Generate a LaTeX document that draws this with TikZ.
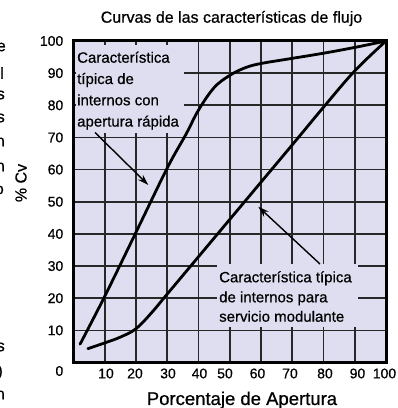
\documentclass[tikz,border=0pt]{standalone}
\usepackage{fontspec}
\setmainfont{Liberation Sans}[FakeBold=0.6]
\usetikzlibrary{arrows.meta}
\definecolor{plotbg}{RGB}{222,222,240}
\definecolor{gridc}{RGB}{40,40,40}
\begin{document}
\begin{tikzpicture}[x=1pt,y=1pt,
  lbl/.style={font=\fontsize{15}{18}\selectfont, inner sep=0, anchor=base west},
  num/.style={font=\fontsize{14}{16}\selectfont, inner sep=0},
  frag/.style={font=\fontsize{16}{19}\selectfont, inner sep=0, anchor=east},
  pointer/.style={line width=1.4pt, -{Stealth[length=11pt,width=7pt]}},
  curve/.style={line width=2.8pt, line join=round, line cap=round},
  gridline/.style={gridc, line width=1.6pt},
  maskbox/.style={fill=plotbg, draw=none, inner sep=0, anchor=north west}]
\useasboundingbox (0,0) rectangle (398,408);
\fill[white] (0,0) rectangle (398,408);

\begin{scope}[shift={(73.5,45.5)}, x=3.125pt, y=3.215pt]
  \fill[plotbg] (0,0) rectangle (100,100);
  \foreach \i in {10,20,...,90} {
    \draw[gridline] (\i,0) -- (\i,100);
    \draw[gridline] (0,\i) -- (100,\i);
  }
\end{scope}

% label boxes masking the grid
\node[maskbox, minimum width=108.5pt, minimum height=87.5pt] (box1) at (75.5,363) {};
\node[maskbox, minimum width=141pt, minimum height=63pt] (box2) at (217,144) {};

\begin{scope}[shift={(73.5,45.5)}, x=3.125pt, y=3.215pt]
  \draw[line width=3pt] (0,0) rectangle (100,100);
  \draw[curve] plot[smooth, tension=0.6] coordinates {(2.1,5.7) (10,20.6) (20,40.5) (30,60.5) (36,71) (40,78.5) (45,85.5) (50,89.3) (55,91.7) (60,93) (70,94.6) (80,96.2) (90,98) (100,100)};
  \draw[curve] plot[smooth, tension=0.6] coordinates {(4.6,4.3) (10,6.1) (15,7.9) (20,10.5) (25,15.5) (30,21.3) (40,32.9) (55,50.3) (70,67.7) (80,79.4) (90,90.7) (100,100)};
\end{scope}

% label texts
\node[lbl] (t11) at (77,345.3) {Característica};
\node[lbl] (t12) at (77,324) {típica de};
\node[lbl] (t13) at (77,302.7) {internos con};
\node[lbl] (t14) at (77,281.4) {apertura rápida};
\node[lbl] (t21) at (219,125.7) {Característica típica};
\node[lbl] (t22) at (219,105.7) {de internos para};
\node[lbl] (t23) at (219,86.3) {servicio modulante};

% pointers
\coordinate (a1s) at (95,275.5);
\coordinate (a1e) at (148.3,223);
\coordinate (a2s) at (320,144);
\coordinate (a2e) at (258.3,201.3);
\draw[pointer] (a1s) -- (a1e);
\draw[pointer] (a2s) -- (a2e);

% title and axis labels
\node[font=\fontsize{16}{19}\selectfont, inner sep=0, anchor=base] (title) at (231.5,385.3) {Curvas de las características de flujo};
\node[font=\fontsize{18.5}{22}\selectfont, inner sep=0, anchor=base] (xlab) at (242,3) {Porcentaje de Apertura};
\node[font=\fontsize{16}{19}\selectfont, inner sep=0, rotate=90] (ylab) at (21,225) {\% Cv};

% y tick labels
\foreach \v in {10,20,...,100} {
  \node[num, anchor=east] (y\v) at (63.5,{45.5+3.215*\v}) {\v};
}
\node[num, anchor=east] (y0) at (63.5,37) {0};

% x tick labels
\foreach \v/\xx in {10/106,20/135,30/168,40/199.5,50/225,60/257.5,70/290,80/325,90/357.5,100/384.5} {
  \node[num, anchor=base] (x\v) at (\xx,29.7) {\v};
}

% cut-off letters of neighbouring text
\node[frag] (f1) at (6,361) {e};
\node[frag] (f2) at (4,335) {l};
\node[frag] (f3) at (5,313) {s};
\node[frag] (f4) at (5,290) {s};
\node[frag] (f5) at (5,266) {n};
\node[frag] (f6) at (5,241) {n};
\node[frag] (f7) at (4,218) {o};
\node[frag] (f8) at (5,61) {s};
\node[frag] (f9) at (3,36) {)};
\node[frag] (f10) at (5,13) {n};
\end{tikzpicture}
\end{document}
